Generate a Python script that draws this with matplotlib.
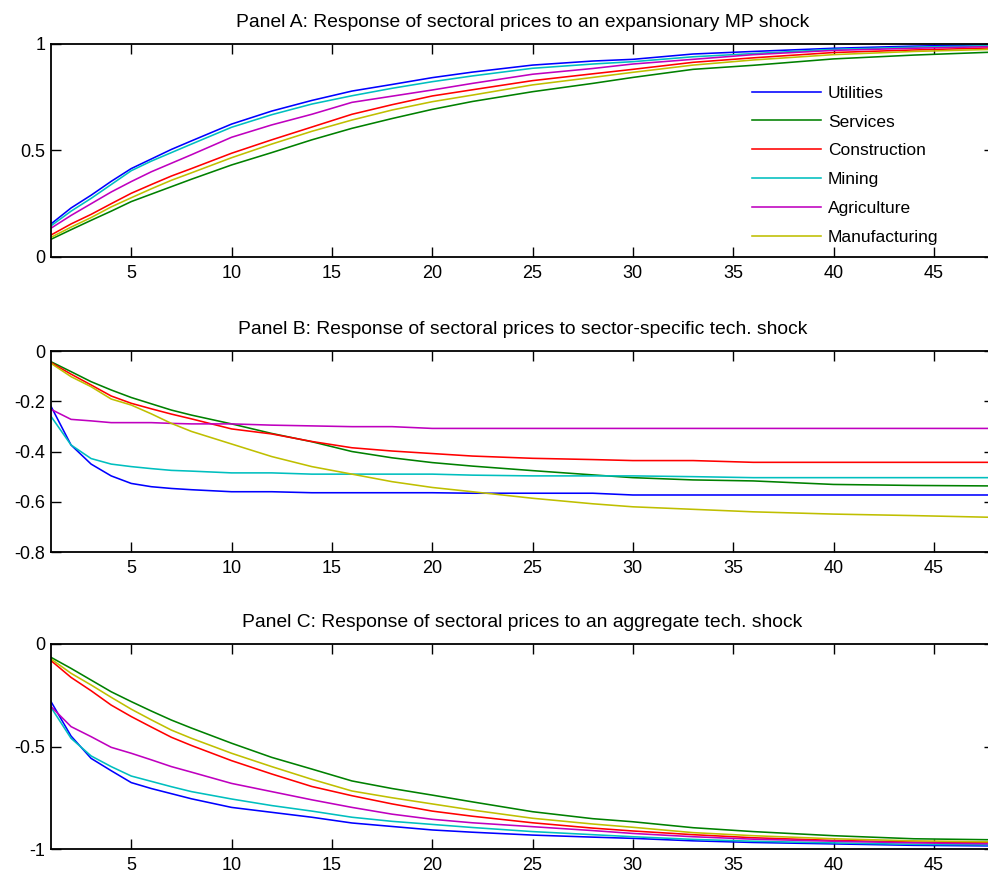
import numpy as np
import matplotlib
matplotlib.use('Agg')
import matplotlib.pyplot as plt
from matplotlib.ticker import FormatStrFormatter

plt.rcParams['font.family'] = ['Liberation Sans', 'DejaVu Sans']
plt.rcParams['axes.unicode_minus'] = False

# horizon (periods) at which values were read
horizon = [1, 2, 3, 4, 5, 6, 7, 8, 10, 12, 14, 16, 18, 20, 22, 25, 28, 30, 33, 36, 40, 44, 48]

sectors = ['Utilities', 'Services', 'Construction', 'Mining', 'Agriculture', 'Manufacturing']
colors = {
    'Utilities': (0, 0, 1),
    'Services': (0, 0.5, 0),
    'Construction': (1, 0, 0),
    'Mining': (0, 0.75, 0.75),
    'Agriculture': (0.75, 0, 0.75),
    'Manufacturing': (0.75, 0.75, 0),
}

# Panel A: expansionary MP shock
mp_utilities = [0.155, 0.23, 0.29, 0.355, 0.415, 0.46, 0.505, 0.545, 0.624, 0.685, 0.735, 0.779,
                0.81, 0.842, 0.868, 0.901, 0.92, 0.928, 0.953, 0.965, 0.98, 0.99, 0.997]
mp_services = [0.083, 0.128, 0.172, 0.215, 0.26, 0.295, 0.33, 0.365, 0.432, 0.49, 0.55, 0.604,
               0.65, 0.693, 0.73, 0.776, 0.815, 0.843, 0.881, 0.9, 0.93, 0.948, 0.962]
mp_construction = [0.103, 0.155, 0.2, 0.25, 0.299, 0.34, 0.38, 0.415, 0.487, 0.55, 0.61, 0.67,
                   0.715, 0.756, 0.785, 0.828, 0.86, 0.881, 0.914, 0.935, 0.96, 0.972, 0.982]
mp_mining = [0.146, 0.215, 0.275, 0.34, 0.405, 0.45, 0.49, 0.53, 0.609, 0.668, 0.718, 0.757,
             0.792, 0.823, 0.85, 0.886, 0.906, 0.917, 0.94, 0.955, 0.975, 0.985, 0.992]
mp_agriculture = [0.135, 0.195, 0.25, 0.305, 0.354, 0.40, 0.44, 0.48, 0.562, 0.62, 0.67, 0.726,
                  0.755, 0.784, 0.815, 0.858, 0.885, 0.906, 0.928, 0.95, 0.97, 0.98, 0.988]
mp_manufacturing = [0.092, 0.14, 0.185, 0.235, 0.278, 0.32, 0.36, 0.395, 0.466, 0.53, 0.59, 0.643,
                    0.69, 0.729, 0.76, 0.808, 0.843, 0.867, 0.901, 0.925, 0.95, 0.965, 0.975]

# Panel B: sector-specific tech. shock
ss_utilities = [-0.22, -0.374, -0.45, -0.497, -0.527, -0.54, -0.547, -0.552, -0.56, -0.56, -0.564, -0.564,
                -0.564, -0.564, -0.566, -0.566, -0.566, -0.573, -0.573, -0.573, -0.573, -0.573, -0.573]
ss_services = [-0.0425, -0.082, -0.122, -0.155, -0.185, -0.21, -0.235, -0.255, -0.29, -0.328, -0.361, -0.4,
               -0.425, -0.444, -0.458, -0.476, -0.493, -0.504, -0.513, -0.517, -0.531, -0.535, -0.537]
ss_construction = [-0.046, -0.092, -0.135, -0.179, -0.208, -0.23, -0.251, -0.27, -0.31, -0.33, -0.36, -0.385,
                   -0.398, -0.408, -0.418, -0.427, -0.432, -0.436, -0.436, -0.443, -0.443, -0.443, -0.443]
ss_mining = [-0.26, -0.374, -0.428, -0.45, -0.46, -0.468, -0.475, -0.478, -0.485, -0.485, -0.49, -0.49,
             -0.49, -0.49, -0.494, -0.497, -0.497, -0.497, -0.5, -0.504, -0.504, -0.504, -0.504]
ss_agriculture = [-0.232, -0.272, -0.278, -0.285, -0.285, -0.285, -0.288, -0.29, -0.29, -0.295, -0.298, -0.301,
                  -0.301, -0.308, -0.308, -0.308, -0.308, -0.308, -0.308, -0.308, -0.308, -0.308, -0.308]
ss_manufacturing = [-0.049, -0.102, -0.142, -0.191, -0.215, -0.25, -0.288, -0.32, -0.37, -0.42, -0.46, -0.49,
                    -0.52, -0.543, -0.56, -0.586, -0.608, -0.62, -0.63, -0.64, -0.649, -0.655, -0.662]

# Panel C: aggregate tech. shock
ag_utilities = [-0.281, -0.449, -0.558, -0.618, -0.676, -0.705, -0.73, -0.755, -0.797, -0.821, -0.845, -0.873,
                -0.89, -0.907, -0.918, -0.932, -0.942, -0.948, -0.96, -0.968, -0.975, -0.982, -0.985]
ag_services = [-0.065, -0.119, -0.176, -0.233, -0.281, -0.327, -0.371, -0.41, -0.484, -0.553, -0.61, -0.668,
               -0.705, -0.737, -0.77, -0.818, -0.852, -0.867, -0.896, -0.915, -0.935, -0.95, -0.955]
ag_construction = [-0.081, -0.163, -0.228, -0.298, -0.354, -0.405, -0.455, -0.495, -0.569, -0.634, -0.695, -0.74,
                   -0.78, -0.815, -0.84, -0.872, -0.898, -0.912, -0.93, -0.945, -0.958, -0.966, -0.97]
ag_mining = [-0.309, -0.46, -0.546, -0.598, -0.644, -0.67, -0.696, -0.72, -0.756, -0.788, -0.815, -0.845,
             -0.865, -0.88, -0.895, -0.915, -0.93, -0.94, -0.953, -0.962, -0.97, -0.977, -0.98]
ag_agriculture = [-0.305, -0.403, -0.452, -0.504, -0.533, -0.565, -0.598, -0.625, -0.68, -0.72, -0.76, -0.797,
                  -0.83, -0.855, -0.872, -0.891, -0.91, -0.924, -0.94, -0.952, -0.962, -0.97, -0.975]
ag_manufacturing = [-0.073, -0.143, -0.2, -0.26, -0.318, -0.37, -0.42, -0.46, -0.533, -0.598, -0.66, -0.717,
                    -0.75, -0.78, -0.81, -0.85, -0.878, -0.894, -0.92, -0.935, -0.95, -0.96, -0.965]

panels = [
    ('Panel A: Response of sectoral prices to an expansionary MP shock',
     [mp_utilities, mp_services, mp_construction, mp_mining, mp_agriculture, mp_manufacturing],
     (0, 1), [0, 0.5, 1]),
    ('Panel B: Response of sectoral prices to sector-specific tech. shock',
     [ss_utilities, ss_services, ss_construction, ss_mining, ss_agriculture, ss_manufacturing],
     (-0.8, 0), [-0.8, -0.6, -0.4, -0.2, 0]),
    ('Panel C: Response of sectoral prices to an aggregate tech. shock',
     [ag_utilities, ag_services, ag_construction, ag_mining, ag_agriculture, ag_manufacturing],
     (-1, 0), [-1, -0.5, 0]),
]

# axes boxes in figure fraction: left, bottom, width, height
boxes = [(0.0516, 0.708, 0.9545, 0.242),
         (0.0516, 0.3727, 0.9545, 0.2284),
         (0.0516, 0.0352, 0.9545, 0.233)]

fig = plt.figure(figsize=(9.88, 8.8), dpi=100)
for (title, series, ylim, yticks), box in zip(panels, boxes):
    ax = fig.add_axes(box)
    for name, vals in zip(sectors, series):
        ax.plot(horizon, vals, color=colors[name], linewidth=1.15, label=name)
    ax.set_xlim(1, 48)
    ax.set_ylim(*ylim)
    ax.set_xticks(range(5, 48, 5))
    ax.set_yticks(yticks)
    ax.yaxis.set_major_formatter(FormatStrFormatter('%g'))
    ax.tick_params(direction='in', top=True, right=True, length=7, width=1.0,
                   labelsize=13)
    ax.tick_params(axis='x', pad=6)
    ax.tick_params(axis='y', pad=4)
    for sp in ax.spines.values():
        sp.set_linewidth(1.3)
    ax.set_title(title, fontsize=13.9, pad=12)
    if title.startswith('Panel A'):
        ax.legend(loc='upper left', bbox_to_anchor=(0.743, 0.805), frameon=False,
                  fontsize=12.5, handlelength=4.0, handletextpad=0.4,
                  labelspacing=0.79, borderpad=0, borderaxespad=0)

fig.savefig('out.png', dpi=100)
